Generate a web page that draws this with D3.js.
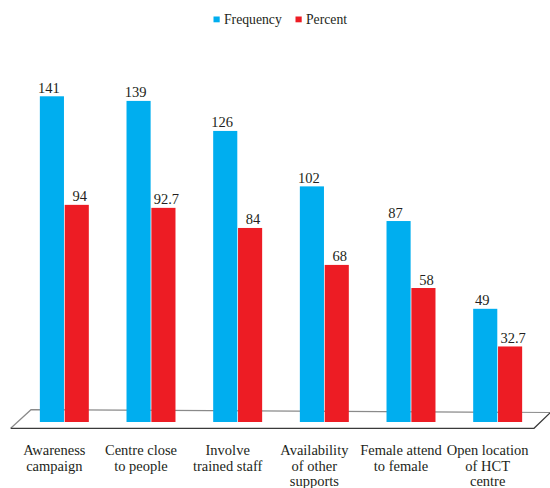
<!DOCTYPE html>
<html lang="en">
<head>
  <meta charset="UTF-8">
  <title>Frequency and percent by reason</title>
  <script src="https://d3js.org/d3.v7.min.js"></script>
  <style>
    body {
      margin: 0;
      padding: 0;
      background: #fff;
    }
  </style>
</head>
<body>
  <div id="chart"></div>
  <script>
    // chart data
    const categories = [
      ["Awareness", "campaign"],
      ["Centre close", "to people"],
      ["Involve", "trained staff"],
      ["Availability", "of other", "supports"],
      ["Female attend", "to female"],
      ["Open location", "of HCT", "centre"]
    ];
    const seriesNames = ["Frequency", "Percent"];
    const frequency = [141, 139, 126, 102, 87, 49];
    const percent = [94, 92.7, 84, 68, 58, 32.7];
    const labelText = {
      Frequency: ["141", "139", "126", "102", "87", "49"],
      Percent: ["94", "92.7", "84", "68", "58", "32.7"]
    };

    const width = 550;
    const height = 488;
    const colors = { Frequency: "#00aeef", Percent: "#ed1c24" };
    const serif = "'Liberation Serif', 'Times New Roman', Times, 'DejaVu Serif', serif";

    const svg = d3.select("#chart")
      .append("svg")
      .attr("width", width)
      .attr("height", height)
      .attr("font-family", serif)
      .style("font-family", serif);

    const keys = categories.map(c => c.join(" "));
    const rows = keys.map((k, i) => ({
      key: k,
      lines: categories[i],
      Frequency: frequency[i],
      Percent: percent[i]
    }));

    // scales
    const x0 = d3.scaleBand()
      .domain(keys)
      .range([21, 541])
      .paddingInner(0.435)
      .paddingOuter(0.2175);

    const x1 = d3.scaleBand()
      .domain(seriesNames)
      .range([0, x0.bandwidth()])
      .paddingInner(0.03);

    const y = d3.scaleLinear()
      .domain([0, 160])
      .range([422, 52.4]);

    // floor (perspective plane)
    const base = y(0);
    const floor = svg.append("g");
    floor.append("path")
      .attr("d", `M10.7,${base + 6.3} L31,${base - 12.3} L550,${base - 9.5}`)
      .attr("fill", "none")
      .attr("stroke", "#8a8a8a")
      .attr("stroke-width", 1.2);
    floor.append("path")
      .attr("d", `M10.7,${base + 6.3} L534,${base + 6.3} L550,${base - 9}`)
      .attr("fill", "none")
      .attr("stroke", "#3a3a3a")
      .attr("stroke-width", 1.2);

    // bars
    const group = svg.append("g")
      .selectAll("g")
      .data(rows)
      .join("g")
      .attr("transform", d => `translate(${x0(d.key)},0)`);

    group.selectAll("rect")
      .data(d => seriesNames.map(s => ({ key: s, value: d[s] })))
      .join("rect")
      .attr("x", d => x1(d.key))
      .attr("y", d => y(d.value))
      .attr("width", x1.bandwidth())
      .attr("height", d => y(0) - y(d.value))
      .attr("fill", d => colors[d.key]);

    // value labels
    group.selectAll("text.val")
      .data((d, i) => seriesNames.map(s => ({ key: s, value: d[s], txt: labelText[s][i] })))
      .join("text")
      .attr("class", "val")
      .attr("x", d => x1(d.key) + x1.bandwidth() / 2 + (d.key === "Frequency" ? -3 : 3))
      .attr("y", d => y(d.value) - 3.5)
      .attr("text-anchor", "middle")
      .attr("fill", "#231f20")
      .style("font-size", "14.5px")
      .text(d => d.txt);

    // category labels
    const catLabels = svg.append("g")
      .selectAll("text")
      .data(rows)
      .join("text")
      .attr("text-anchor", "middle")
      .attr("fill", "#231f20")
      .style("font-size", "14.5px")
      .attr("transform", d => `translate(${x0(d.key) + x0.bandwidth() / 2 - 10},455)`);

    catLabels.selectAll("tspan")
      .data(d => d.lines)
      .join("tspan")
      .attr("x", 0)
      .attr("y", (d, i) => i * 15.7)
      .text(d => d);

    // legend
    const legendPos = { Frequency: 213.5, Percent: 295.5 };
    const legend = svg.append("g")
      .selectAll("g")
      .data(seriesNames)
      .join("g")
      .attr("transform", d => `translate(${legendPos[d]},16.5)`);

    legend.append("rect")
      .attr("width", 6.2)
      .attr("height", 5.8)
      .attr("fill", d => colors[d]);

    legend.append("text")
      .attr("x", 10.5)
      .attr("y", 7.2)
      .attr("fill", "#231f20")
      .style("font-size", "13.7px")
      .text(d => d);
  </script>
</body>
</html>
